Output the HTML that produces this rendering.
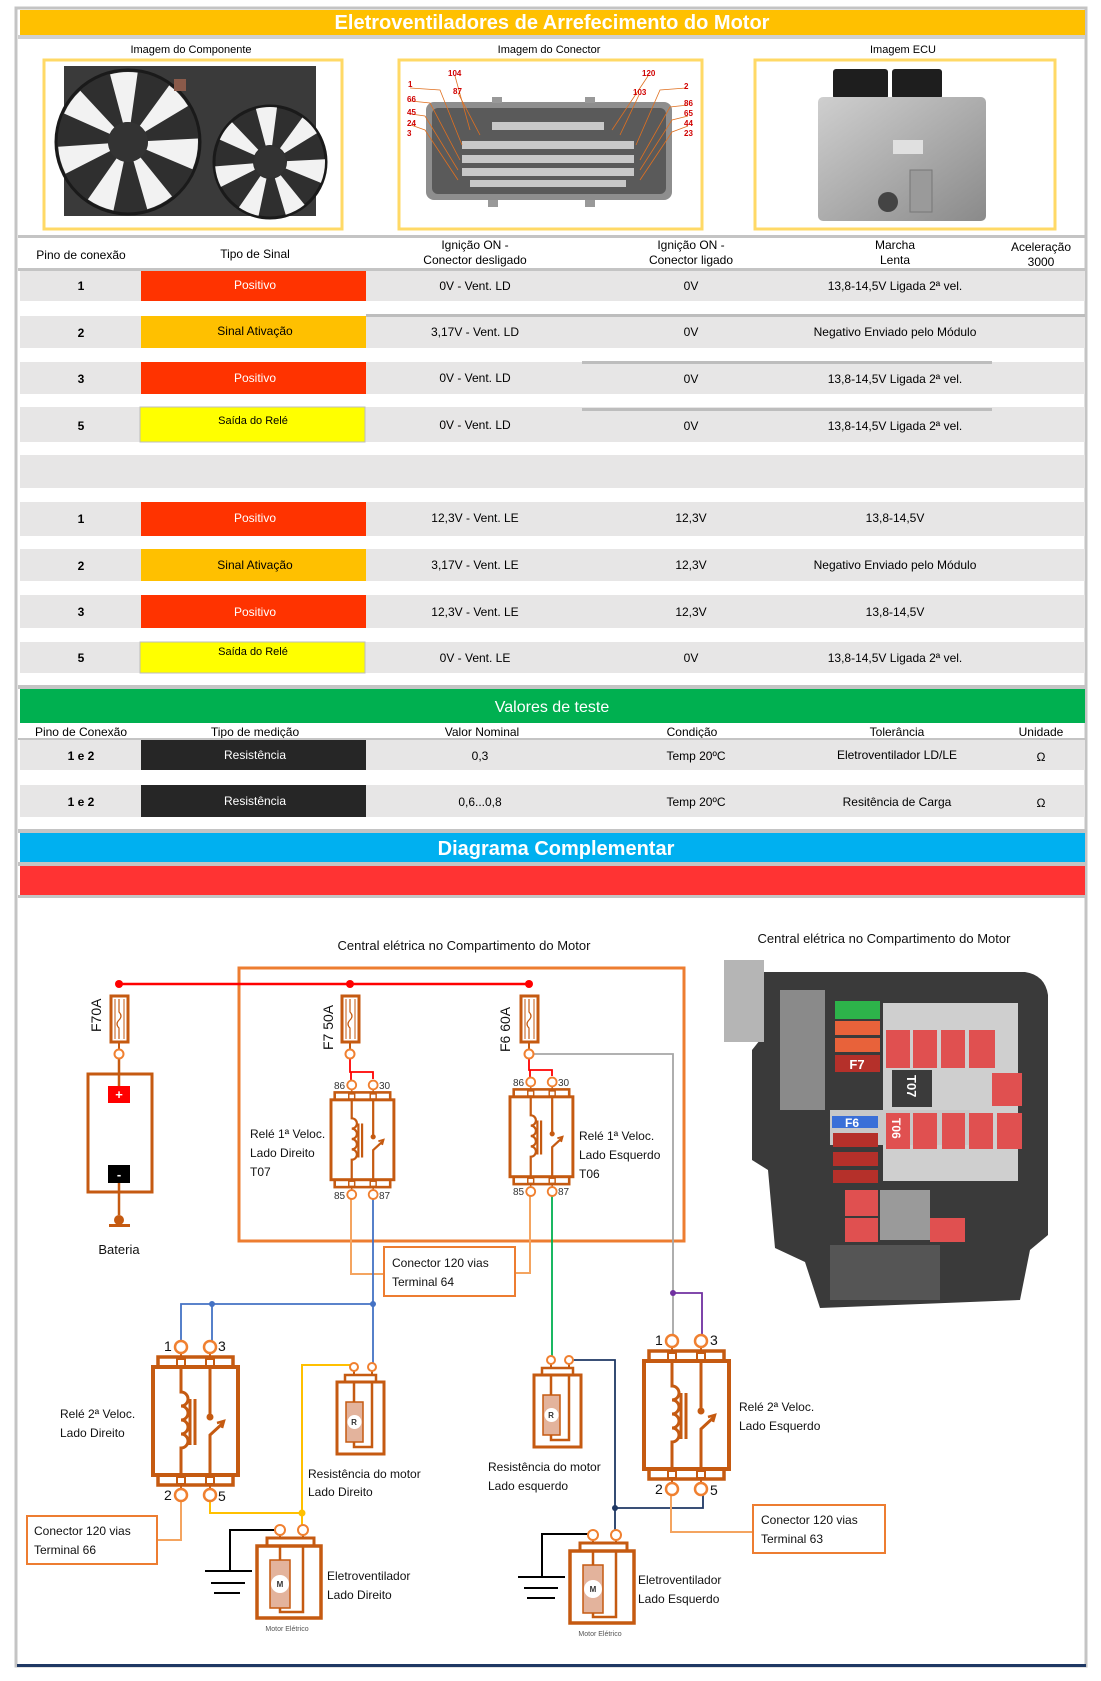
<!DOCTYPE html>
<html><head><meta charset="utf-8"><style>
html,body{margin:0;padding:0;background:#fff;}
svg{display:block;}
text{font-family:"Liberation Sans",sans-serif;}
</style></head><body>
<svg width="1101" height="1681" viewBox="0 0 1101 1681" xmlns="http://www.w3.org/2000/svg">
<defs>
<g id="relay" fill="none" stroke="#C55A11">
 <line x1="28" y1="6" x2="28" y2="10" stroke-width="2"/><line x1="57" y1="6" x2="57" y2="10" stroke-width="2"/>
 <line x1="28" y1="138" x2="28" y2="142" stroke-width="2"/><line x1="57" y1="138" x2="57" y2="142" stroke-width="2"/>
 <circle cx="28" cy="0" r="6" stroke="#F08030" stroke-width="2.5" fill="#fff"/>
 <circle cx="57" cy="0" r="6" stroke="#F08030" stroke-width="2.5" fill="#fff"/>
 <circle cx="28" cy="148" r="6" stroke="#F08030" stroke-width="2.5" fill="#fff"/>
 <circle cx="57" cy="148" r="6" stroke="#F08030" stroke-width="2.5" fill="#fff"/>
 <rect x="5" y="10" width="75" height="10" stroke-width="3.5"/>
 <rect x="0" y="20" width="85" height="108" stroke-width="4"/>
 <rect x="5" y="128" width="75" height="10" stroke-width="3.5"/>
 <rect x="24" y="12" width="8" height="7" stroke-width="2"/><rect x="53" y="12" width="8" height="7" stroke-width="2"/>
 <rect x="24" y="130" width="8" height="7" stroke-width="2"/><rect x="53" y="130" width="8" height="7" stroke-width="2"/>
 <path d="M28 20 V45 a7 7 0 0 1 0 14 a7 7 0 0 1 0 14 a7 7 0 0 1 0 14 a7 7 0 0 1 0 14 V128" stroke-width="3"/>
 <line x1="37" y1="52" x2="37" y2="98" stroke-width="3"/><line x1="42" y1="52" x2="42" y2="98" stroke-width="3"/>
 <path d="M57 20 V70" stroke-width="3"/><circle cx="57" cy="70" r="3" fill="#C55A11"/>
 <path d="M57 128 V88 L70 76" stroke-width="3"/><path d="M64 76 L71 74 L69 81" stroke-width="2.5"/>
</g>
<g id="res" fill="none" stroke="#C55A11">
 <line x1="17" y1="4" x2="17" y2="8" stroke-width="2"/><line x1="35" y1="4" x2="35" y2="8" stroke-width="2"/>
 <circle cx="17" cy="0" r="4" stroke="#F08030" stroke-width="2" fill="#fff"/>
 <circle cx="35" cy="0" r="4" stroke="#F08030" stroke-width="2" fill="#fff"/>
 <rect x="8" y="8" width="31" height="7" stroke-width="2.5"/>
 <rect x="0" y="15" width="47" height="72" stroke-width="3"/>
 <path d="M17 15 V35 M17 75 V80 H35 V15" stroke-width="2.5"/>
 <rect x="9" y="35" width="17" height="40" fill="#E3B39C" stroke-width="1.5"/>
 <circle cx="17.5" cy="55" r="7" fill="#fff" stroke="none"/>
</g>
<g id="mot" fill="none" stroke="#C55A11">
 <line x1="23" y1="5" x2="23" y2="8" stroke-width="2"/><line x1="46" y1="5" x2="46" y2="8" stroke-width="2"/>
 <circle cx="23" cy="0" r="5" stroke="#F08030" stroke-width="2" fill="#fff"/>
 <circle cx="46" cy="0" r="5" stroke="#F08030" stroke-width="2" fill="#fff"/>
 <rect x="10" y="8" width="47" height="8" stroke-width="3"/>
 <rect x="0" y="16" width="64" height="72" stroke-width="3.5"/>
 <path d="M23 16 V30 M23 78 V82 H46 V16" stroke-width="2.5"/>
 <rect x="13" y="30" width="20" height="48" fill="#E3B39C" stroke-width="1.5"/>
 <circle cx="23" cy="54" r="9" fill="#fff" stroke="none"/>
</g>
<g id="fuse" fill="none" stroke="#C55A11">
 <rect x="-8" y="0" width="17" height="46" stroke-width="3"/>
 <line x1="-4" y1="3" x2="-4" y2="43" stroke-width="1"/><line x1="5" y1="3" x2="5" y2="43" stroke-width="1"/>
 <path d="M0 3 V16 q4 4 0 8 q-4 4 0 8 V43" stroke-width="1.2"/>
 <line x1="0" y1="46" x2="0" y2="54" stroke-width="2"/>
 <circle cx="0" cy="58" r="4.5" stroke="#F08030" stroke-width="2" fill="#fff"/>
</g>
<linearGradient id="silver" x1="0" y1="0" x2="1" y2="1"><stop offset="0" stop-color="#cfcfcf"/><stop offset="1" stop-color="#8a8a8a"/></linearGradient>
</defs>

<rect x="16" y="8" width="1070" height="1658" fill="#fff" stroke="#c4c4c4" stroke-width="3"/>
<rect x="17" y="1664" width="1069" height="3" fill="#1F3864"/>

<rect x="20" y="10" width="1065" height="25" fill="#FFC000"/>
<text x="552" y="29" fill="#fff" font-size="20" font-weight="bold" text-anchor="middle">Eletroventiladores de Arrefecimento do Motor</text>
<rect x="18" y="35" width="1067" height="4" fill="#d0d0d0"/>

<g font-size="11" text-anchor="middle" fill="#000">
<text x="191" y="53">Imagem do Componente</text>
<text x="549" y="53">Imagem do Conector</text>
<text x="903" y="53">Imagem ECU</text>
</g>
<rect x="44" y="60" width="298" height="169" fill="#fff" stroke="#FFD966" stroke-width="3"/>
<rect x="64" y="66" width="252" height="150" fill="#3a3a3a"/>
<circle cx="128" cy="142" r="72" fill="#2f2f2f" stroke="#1a1a1a" stroke-width="3"/>
<circle cx="128" cy="142" r="45" fill="none" stroke="#f2f2f2" stroke-width="50" stroke-dasharray="18 22"/>
<circle cx="128" cy="142" r="20" fill="#333"/>
<circle cx="270" cy="162" r="56" fill="#2f2f2f" stroke="#1a1a1a" stroke-width="3"/>
<circle cx="270" cy="162" r="36" fill="none" stroke="#f2f2f2" stroke-width="38" stroke-dasharray="14 18"/>
<circle cx="270" cy="162" r="16" fill="#333"/>
<rect x="174" y="79" width="12" height="12" fill="#8a5a4a"/>
<rect x="399" y="60" width="303" height="169" fill="#fff" stroke="#FFD966" stroke-width="3"/>
<rect x="426" y="102" width="246" height="98" rx="8" fill="#8e8e8e"/>
<rect x="432" y="108" width="234" height="86" rx="6" fill="#5a5a5a"/>
<g fill="#c8c8c8">
<rect x="492" y="122" width="112" height="8"/><rect x="462" y="141" width="172" height="8"/><rect x="462" y="155" width="172" height="8"/><rect x="462" y="168" width="172" height="8"/><rect x="470" y="180" width="156" height="7"/>
</g>
<rect x="492" y="97" width="10" height="6" fill="#999"/><rect x="585" y="97" width="10" height="6" fill="#999"/>
<rect x="488" y="200" width="10" height="7" fill="#999"/><rect x="585" y="200" width="10" height="7" fill="#999"/>
<g stroke="#E07020" stroke-width="0.8" fill="none">
<path d="M410 88 L440 90 L462 145"/><path d="M411 101 L430 103 L460 160"/><path d="M411 114 L425 116 L458 170"/><path d="M411 125 L425 130 L458 180"/><path d="M455 76 L470 130"/><path d="M458 93 L480 135"/>
<path d="M686 88 L660 90 L636 145"/><path d="M688 105 L670 107 L640 160"/><path d="M688 116 L672 120 L640 170"/><path d="M688 126 L672 132 L640 180"/><path d="M648 76 L612 130"/><path d="M639 95 L620 135"/>
</g>
<g font-size="8" font-weight="bold" fill="#d00000">
<text x="448" y="76">104</text><text x="408" y="87">1</text><text x="453" y="94">87</text><text x="407" y="102">66</text><text x="407" y="115">45</text><text x="407" y="126">24</text><text x="407" y="136">3</text>
<text x="642" y="76">120</text><text x="684" y="89">2</text><text x="633" y="95">103</text><text x="684" y="106">86</text><text x="684" y="116">65</text><text x="684" y="126">44</text><text x="684" y="136">23</text>
</g>
<rect x="755" y="60" width="300" height="169" fill="#fff" stroke="#FFD966" stroke-width="3"/>
<rect x="833" y="69" width="55" height="30" rx="3" fill="#1e1e1e"/>
<rect x="892" y="69" width="50" height="30" rx="3" fill="#1e1e1e"/>
<rect x="818" y="97" width="168" height="124" rx="5" fill="url(#silver)"/>
<rect x="893" y="140" width="30" height="14" fill="#e0e0e0"/>
<rect x="910" y="170" width="22" height="42" fill="#9a9a9a" stroke="#777"/>
<circle cx="888" cy="202" r="10" fill="#444"/>
<rect x="18" y="235" width="1067" height="3" fill="#c4c4c4"/>

<g font-size="12" text-anchor="middle" fill="#000">
<text x="81" y="259">Pino de conexão</text>
<text x="255" y="258">Tipo de Sinal</text>
<text x="475" y="249">Ignição ON -</text><text x="475" y="264">Conector desligado</text>
<text x="691" y="249">Ignição ON -</text><text x="691" y="264">Conector ligado</text>
<text x="895" y="249">Marcha</text><text x="895" y="264">Lenta</text>
<text x="1041" y="251">Aceleração</text><text x="1041" y="266">3000</text>
</g>
<rect x="18" y="268" width="1067" height="3" fill="#c4c4c4"/>

<g fill="#E7E6E6">
<rect x="20" y="271" width="1065" height="30"/>
<rect x="20" y="316" width="1065" height="32"/>
<rect x="20" y="362" width="1065" height="32"/>
<rect x="20" y="407" width="1065" height="35"/>
<rect x="20" y="455" width="1065" height="33"/>
<rect x="20" y="502" width="1065" height="34"/>
<rect x="20" y="549" width="1065" height="32"/>
<rect x="20" y="595" width="1065" height="33"/>
<rect x="20" y="642" width="1065" height="31"/>
</g>
<rect x="366" y="314" width="719" height="3" fill="#bdbdbd"/>
<rect x="582" y="361" width="410" height="3" fill="#bdbdbd"/>
<rect x="582" y="408" width="410" height="3" fill="#bdbdbd"/>
<rect x="141" y="271" width="225" height="30" fill="#FF3300"/>
<rect x="141" y="316" width="225" height="32" fill="#FFC000"/>
<rect x="141" y="362" width="225" height="32" fill="#FF3300"/>
<rect x="140" y="407" width="225" height="35" fill="#FFFF00" stroke="#bdbdbd"/>
<rect x="141" y="502" width="225" height="34" fill="#FF3300"/>
<rect x="141" y="549" width="225" height="32" fill="#FFC000"/>
<rect x="141" y="595" width="225" height="33" fill="#FF3300"/>
<rect x="140" y="642" width="225" height="31" fill="#FFFF00" stroke="#bdbdbd"/>
<g font-size="12" text-anchor="middle" fill="#000">
<g font-weight="bold"><text x="81" y="290">1</text><text x="81" y="337">2</text><text x="81" y="383">3</text><text x="81" y="430">5</text>
<text x="81" y="523">1</text><text x="81" y="570">2</text><text x="81" y="616">3</text><text x="81" y="662">5</text></g>
<text x="255" y="289" fill="#fff">Positivo</text>
<text x="255" y="335">Sinal Ativação</text>
<text x="255" y="382" fill="#fff">Positivo</text>
<text x="253" y="424" font-size="11">Saída do Relé</text>
<text x="255" y="522" fill="#fff">Positivo</text>
<text x="255" y="569">Sinal Ativação</text>
<text x="255" y="616" fill="#fff">Positivo</text>
<text x="253" y="655" font-size="11">Saída do Relé</text>
<text x="475" y="290">0V - Vent. LD</text><text x="691" y="290">0V</text><text x="895" y="290">13,8-14,5V Ligada 2ª vel.</text>
<text x="475" y="336">3,17V - Vent. LD</text><text x="691" y="336">0V</text><text x="895" y="336">Negativo Enviado pelo Módulo</text>
<text x="475" y="382">0V - Vent. LD</text><text x="691" y="383">0V</text><text x="895" y="383">13,8-14,5V Ligada 2ª vel.</text>
<text x="475" y="429">0V - Vent. LD</text><text x="691" y="430">0V</text><text x="895" y="430">13,8-14,5V Ligada 2ª vel.</text>
<text x="475" y="522">12,3V - Vent. LE</text><text x="691" y="522">12,3V</text><text x="895" y="522">13,8-14,5V</text>
<text x="475" y="569">3,17V - Vent. LE</text><text x="691" y="569">12,3V</text><text x="895" y="569">Negativo Enviado pelo Módulo</text>
<text x="475" y="616">12,3V - Vent. LE</text><text x="691" y="616">12,3V</text><text x="895" y="616">13,8-14,5V</text>
<text x="475" y="662">0V - Vent. LE</text><text x="691" y="662">0V</text><text x="895" y="662">13,8-14,5V Ligada 2ª vel.</text>
</g>
<rect x="18" y="685" width="1067" height="4" fill="#c4c4c4"/>

<rect x="20" y="689" width="1065" height="34" fill="#00B050"/>
<text x="552" y="712" font-size="16" fill="#fff" text-anchor="middle">Valores de teste</text>
<g font-size="12" text-anchor="middle" fill="#000">
<text x="81" y="736">Pino de Conexão</text><text x="255" y="736">Tipo de medição</text><text x="482" y="736">Valor Nominal</text><text x="692" y="736">Condição</text><text x="897" y="736">Tolerância</text><text x="1041" y="736">Unidade</text>
</g>
<rect x="18" y="738" width="1067" height="2" fill="#c4c4c4"/>
<rect x="20" y="740" width="1065" height="30" fill="#E7E6E6"/>
<rect x="20" y="785" width="1065" height="32" fill="#E7E6E6"/>
<rect x="141" y="740" width="225" height="30" fill="#262626"/>
<rect x="141" y="785" width="225" height="32" fill="#262626"/>
<g font-size="12" text-anchor="middle" fill="#000">
<text x="81" y="760" font-weight="bold">1 e 2</text><text x="81" y="806" font-weight="bold">1 e 2</text>
<text x="255" y="759" fill="#fff">Resistência</text><text x="255" y="805" fill="#fff">Resistência</text>
<text x="480" y="760">0,3</text><text x="480" y="806">0,6...0,8</text>
<text x="696" y="760">Temp 20ºC</text><text x="696" y="806">Temp 20ºC</text>
<text x="897" y="759">Eletroventilador LD/LE</text><text x="897" y="806">Resitência de Carga</text>
<text x="1041" y="761">Ω</text><text x="1041" y="807">Ω</text>
</g>
<rect x="18" y="829" width="1067" height="4" fill="#c4c4c4"/>
<rect x="20" y="833" width="1065" height="29" fill="#00B0F0"/>
<text x="556" y="855" font-size="20" font-weight="bold" fill="#fff" text-anchor="middle">Diagrama Complementar</text>
<rect x="18" y="862" width="1067" height="4" fill="#c4c4c4"/>
<rect x="20" y="866" width="1065" height="29" fill="#FF3333"/>
<rect x="18" y="895" width="1067" height="3" fill="#c4c4c4"/>

<text x="464" y="950" font-size="13" text-anchor="middle" fill="#111">Central elétrica no Compartimento do Motor</text>
<rect x="239" y="968" width="445" height="273" fill="none" stroke="#ED7D31" stroke-width="3"/>
<g fill="none" stroke-width="1.8">
<path d="M119 984 H529" stroke="#FF0000" stroke-width="2.5"/>
<path d="M350 1058 V1072 H373 V1079 M351 1072 V1080" stroke="#FF0000"/>
<path d="M529 1058 V1070 H552 V1076 M530 1070 V1077" stroke="#FF0000"/>
<path d="M533 1054 H673 V1335" stroke="#A6A6A6"/>
<path d="M673 1293 H702 V1336" stroke="#7030A0"/>
<path d="M351 1199 V1274 H384" stroke="#F4A460" stroke-width="2"/>
<path d="M530 1196 V1273 H515" stroke="#F4A460" stroke-width="2"/>
<path d="M373 1199 V1304 H181 V1342 M212 1304 V1342 M373 1304 V1363" stroke="#4472C4"/>
<path d="M552 1196 V1356" stroke="#00B050"/>
<path d="M569 1360 H615 V1531 M615 1508 H703 V1495" stroke="#1F3864"/>
<path d="M210 1500 V1513 H302 V1365 H354 V1363 M302 1513 V1526" stroke="#FFC000" stroke-width="2"/>
<path d="M181 1500 V1540 H157" stroke="#F4A460" stroke-width="2"/>
<path d="M671 1495 V1532 H753" stroke="#F4A460" stroke-width="2"/>
<path d="M275 1530 H230 V1571" stroke="#000" stroke-width="2"/>
<path d="M589 1534 H542 V1577" stroke="#000" stroke-width="2"/>
<path d="M119 1058 V1086 M119 1183 V1215" stroke="#C55A11" stroke-width="2.5"/>
</g>
<g fill="#FF0000"><circle cx="119" cy="984" r="4"/><circle cx="350" cy="984" r="4"/><circle cx="529" cy="984" r="4"/></g>
<g fill="#4472C4"><circle cx="212" cy="1304" r="3"/><circle cx="373" cy="1304" r="3"/></g>
<circle cx="673" cy="1293" r="3" fill="#7030A0"/>
<circle cx="615" cy="1508" r="3" fill="#1F3864"/>
<circle cx="302" cy="1513" r="3.5" fill="#FFC000"/>
<g stroke="#000" stroke-width="2"><line x1="205" y1="1571" x2="252" y2="1571"/><line x1="211" y1="1583" x2="245" y2="1583"/><line x1="214" y1="1593" x2="240" y2="1593"/>
<line x1="518" y1="1577" x2="565" y2="1577"/><line x1="524" y1="1588" x2="558" y2="1588"/><line x1="527" y1="1598" x2="555" y2="1598"/></g>
<use href="#fuse" transform="translate(119,996)"/>
<use href="#fuse" transform="translate(350,996)"/>
<use href="#fuse" transform="translate(529,996)"/>
<g font-size="14" fill="#111">
<text transform="translate(101,1032) rotate(-90)">F70A</text>
<text transform="translate(333,1050) rotate(-90)">F7 50A</text>
<text transform="translate(510,1052) rotate(-90)">F6 60A</text>
</g>
<rect x="88" y="1074" width="64" height="118" fill="none" stroke="#C55A11" stroke-width="3"/>
<rect x="108" y="1086" width="22" height="17" fill="#FF0000"/>
<text x="119" y="1099" font-size="13" font-weight="bold" fill="#fff" text-anchor="middle">+</text>
<rect x="108" y="1165" width="22" height="18" fill="#000"/>
<text x="119" y="1179" font-size="13" font-weight="bold" fill="#fff" text-anchor="middle">-</text>
<circle cx="119" cy="1220" r="5" fill="#C55A11"/>
<rect x="109" y="1224" width="21" height="3" fill="#C55A11"/>
<text x="119" y="1254" font-size="13" text-anchor="middle" fill="#111">Bateria</text>
<use href="#relay" transform="translate(331,1085) scale(0.74)"/>
<use href="#relay" transform="translate(510,1082) scale(0.74)"/>
<use href="#relay" transform="translate(153,1347)"/>
<use href="#relay" transform="translate(644,1341)"/>
<g font-size="10" fill="#333">
<text x="334" y="1089">86</text><text x="379" y="1089">30</text><text x="334" y="1199">85</text><text x="379" y="1199">87</text>
<text x="513" y="1086">86</text><text x="558" y="1086">30</text><text x="513" y="1195">85</text><text x="558" y="1195">87</text>
</g>
<g font-size="14" fill="#111">
<text x="164" y="1351">1</text><text x="218" y="1351">3</text><text x="164" y="1500">2</text><text x="218" y="1501">5</text>
<text x="655" y="1345">1</text><text x="710" y="1345">3</text><text x="655" y="1494">2</text><text x="710" y="1495">5</text>
</g>
<g font-size="12" fill="#111">
<text x="250" y="1138">Relé 1ª Veloc.</text><text x="250" y="1157">Lado Direito</text><text x="250" y="1176">T07</text>
<text x="579" y="1140">Relé 1ª Veloc.</text><text x="579" y="1159">Lado Esquerdo</text><text x="579" y="1178">T06</text>
<text x="60" y="1418">Relé 2ª Veloc.</text><text x="60" y="1437">Lado Direito</text>
<text x="739" y="1411">Relé 2ª Veloc.</text><text x="739" y="1430">Lado Esquerdo</text>
<text x="308" y="1478">Resistência do motor</text><text x="308" y="1496">Lado Direito</text>
<text x="488" y="1471">Resistência do motor</text><text x="488" y="1490">Lado esquerdo</text>
<text x="327" y="1580">Eletroventilador</text><text x="327" y="1599">Lado Direito</text>
<text x="638" y="1584">Eletroventilador</text><text x="638" y="1603">Lado Esquerdo</text>
</g>
<g fill="#fff" stroke="#ED7D31" stroke-width="2">
<rect x="384" y="1247" width="131" height="49"/>
<rect x="27" y="1516" width="130" height="48"/>
<rect x="753" y="1505" width="132" height="48"/>
</g>
<g font-size="12" fill="#111">
<text x="392" y="1267">Conector 120 vias</text><text x="392" y="1286">Terminal 64</text>
<text x="34" y="1535">Conector 120 vias</text><text x="34" y="1554">Terminal 66</text>
<text x="761" y="1524">Conector 120 vias</text><text x="761" y="1543">Terminal 63</text>
</g>
<use href="#res" transform="translate(337,1367)"/>
<use href="#res" transform="translate(534,1360)"/>
<use href="#mot" transform="translate(257,1530)"/>
<use href="#mot" transform="translate(570,1535)"/>
<g font-size="8" font-weight="bold" fill="#333" text-anchor="middle">
<text x="354" y="1425">R</text><text x="551" y="1418">R</text>
<text x="280" y="1587">M</text><text x="593" y="1592">M</text>
</g>
<g font-size="7" fill="#555" text-anchor="middle"><text x="287" y="1631">Motor Elétrico</text><text x="600" y="1636">Motor Elétrico</text></g>

<text x="884" y="943" font-size="13" text-anchor="middle" fill="#111">Central elétrica no Compartimento do Motor</text>
<path d="M760 972 L1025 972 Q1045 975 1048 995 L1048 1235 L1030 1250 L1020 1300 L820 1308 L805 1262 L775 1248 L768 1170 L752 1160 L752 1050 L760 1040 Z" fill="#3a3a3a"/>
<rect x="724" y="960" width="40" height="82" fill="#b5b5b5"/>
<rect x="780" y="990" width="45" height="120" fill="#8a8a8a"/>
<rect x="883" y="1003" width="135" height="178" fill="#cfcfcf"/>
<rect x="830" y="1110" width="140" height="35" fill="#c8c8c8"/>
<rect x="835" y="1001" width="45" height="18" fill="#2db34a"/>
<rect x="835" y="1021" width="45" height="14" fill="#e8623a"/>
<rect x="835" y="1038" width="45" height="14" fill="#e8623a"/>
<rect x="835" y="1055" width="45" height="17" fill="#b5302a"/>
<text x="857" y="1069" font-size="13" font-weight="bold" fill="#fff" text-anchor="middle">F7</text>
<g fill="#e05050">
<rect x="886" y="1030" width="24" height="38"/><rect x="913" y="1030" width="24" height="38"/><rect x="941" y="1030" width="24" height="38"/><rect x="969" y="1030" width="26" height="38"/>
<rect x="992" y="1073" width="30" height="33"/>
<rect x="886" y="1113" width="24" height="36"/><rect x="913" y="1113" width="24" height="36"/><rect x="942" y="1113" width="23" height="36"/><rect x="969" y="1113" width="24" height="36"/><rect x="997" y="1113" width="25" height="36"/>
<rect x="845" y="1190" width="33" height="26"/><rect x="845" y="1218" width="33" height="24"/><rect x="930" y="1218" width="35" height="24"/>
</g>
<g fill="#b5302a"><rect x="833" y="1133" width="45" height="14"/><rect x="833" y="1152" width="45" height="14"/><rect x="833" y="1170" width="45" height="13"/></g>
<rect x="892" y="1070" width="40" height="37" fill="#3b3b3b"/>
<text transform="translate(907,1075) rotate(90)" font-size="13" font-weight="bold" fill="#fff">T07</text>
<rect x="832" y="1116" width="46" height="12" fill="#3a6fd8"/>
<text x="852" y="1127" font-size="12" font-weight="bold" fill="#fff" text-anchor="middle">F6</text>
<text transform="translate(892,1118) rotate(90)" font-size="12" font-weight="bold" fill="#fff">T06</text>
<rect x="880" y="1190" width="50" height="50" fill="#9a9a9a"/>
<rect x="830" y="1245" width="110" height="55" fill="#555"/>
</svg>
</body></html>
